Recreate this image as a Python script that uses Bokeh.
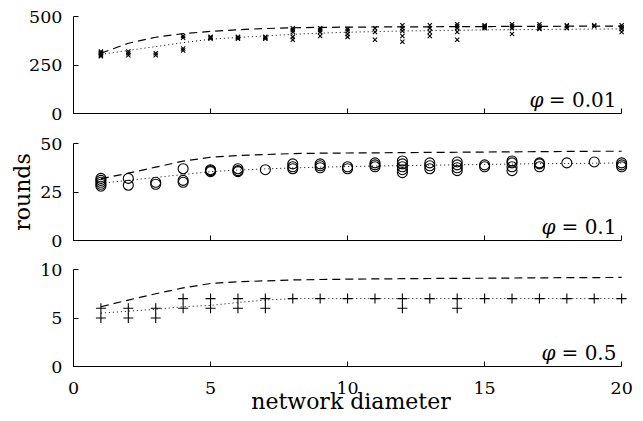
from bokeh.plotting import figure
from bokeh.layouts import column
from bokeh.models import Label, FixedTicker
from bokeh.embed import file_html
from bokeh.resources import INLINE

FONT = "DejaVu Serif"

x_vals = list(range(1, 21))

# panel 1: phi = 0.01
p1_pts = {
    1: [295, 300, 305, 310, 315, 320], 2: [300, 310, 320], 3: [300, 310],
    4: [325, 335, 390, 400], 5: [385, 390, 395], 6: [385, 390, 395],
    7: [385, 390, 395], 8: [380, 395, 420, 430, 440], 9: [400, 420, 430, 440],
    10: [395, 410, 425, 435], 11: [380, 420, 440], 12: [370, 400, 425, 440, 455],
    13: [400, 420, 440, 455], 14: [380, 420, 440, 450, 460], 15: [440, 445, 450, 455],
    16: [410, 440, 450, 460], 17: [435, 440, 450, 460], 18: [440, 450, 455],
    19: [450, 455], 20: [420, 435, 445, 455],
}
p1_dashed = [311, 362, 393, 412, 423, 432, 438, 442, 444, 445,
             446, 447, 447, 448, 448, 449, 449, 450, 450, 450]
p1_dotted = [305, 325, 345, 365, 383, 392, 400, 408, 414, 419,
             422, 425, 427, 429, 431, 432, 433, 434, 435, 436]

# panel 2: phi = 0.1
p2_pts = {
    1: [28, 29, 30, 31, 32], 2: [28.5, 32], 3: [29, 30], 4: [30, 31, 37],
    5: [35.5, 36, 36.5], 6: [35.5, 36, 37], 7: [36.5], 8: [37, 38, 39.5],
    9: [37.5, 38.5, 39.5], 10: [37, 38], 11: [38, 39, 40], 12: [35, 36.5, 38, 39.5, 41],
    13: [37, 38.5, 40], 14: [36, 37.5, 39, 40.5], 15: [38, 39], 16: [36, 38, 40, 41],
    17: [38, 39.5, 40], 18: [40], 19: [40.5], 20: [38, 39, 40],
}
p2_dashed = [31.8, 34.7, 37.8, 40.9, 42.9, 43.8, 44.3, 44.8, 45.0, 45.1,
             45.2, 45.3, 45.4, 45.5, 45.6, 45.7, 45.8, 45.9, 46.0, 46.0]
p2_dotted = [29.5, 31.0, 32.5, 34.0, 35.5, 36.3, 36.9, 37.4, 37.8, 38.1,
             38.4, 38.6, 38.8, 39.0, 39.2, 39.4, 39.6, 39.7, 39.8, 40.0]

# panel 3: phi = 0.5
p3_pts = {
    1: [5, 6], 2: [5, 6], 3: [5, 6], 4: [6, 7], 5: [6, 7], 6: [6, 7], 7: [6, 7],
    8: [7], 9: [7], 10: [7], 11: [7], 12: [6, 7], 13: [7], 14: [6, 7],
    15: [7], 16: [7], 17: [7], 18: [7], 19: [7], 20: [7],
}
p3_dashed = [6.16, 6.85, 7.5, 8.1, 8.56, 8.73, 8.83, 8.92, 8.97, 9.0,
             9.03, 9.05, 9.07, 9.09, 9.1, 9.12, 9.14, 9.16, 9.17, 9.18]
p3_dotted = [5.5, 5.7, 5.9, 6.16, 6.3, 6.6, 6.85, 7.0, 7.0, 7.0,
             7.0, 7.0, 7.0, 7.0, 7.0, 7.0, 7.0, 7.0, 7.0, 7.0]

y_max = [500, 50, 10]
y_ticks = [[0, 250, 500], [0, 25, 50], [0, 5, 10]]
x_ticks = [0, 5, 10, 15, 20]
phi_values = ["= 0.01", "= 0.1", "= 0.5"]
phi_offsets = [-73, -61, -61]
markers = ["x", "circle", "cross"]
marker_sizes = [6, 10, 10]
x_title = "network diameter"
y_title = "rounds"


def flat(d):
    xs, ys = [], []
    for k, vs in d.items():
        for v in vs:
            xs.append(k)
            ys.append(v)
    return xs, ys


def make(i, pts, dashed, dotted, height, top, bottom, last, ylabel):
    p = figure(width=643, height=height, x_range=(0, 20.25), y_range=(0, y_max[i]),
               output_backend="svg", toolbar_location=None,
               min_border_left=73, min_border_right=15,
               min_border_top=top, min_border_bottom=bottom)
    p.grid.visible = False
    p.outline_line_color = None
    p.background_fill_color = "white"
    for ax in (p.xaxis[0], p.yaxis[0]):
        ax.major_tick_in = 5
        ax.major_tick_out = 0
        ax.minor_tick_line_color = None
        ax.axis_line_color = "black"
        ax.major_tick_line_color = "black"
        ax.major_label_text_font = FONT
        ax.major_label_text_font_size = "17.5px"
        ax.major_label_text_color = "black"
        ax.axis_label_text_font = FONT
        ax.axis_label_text_font_style = "normal"
        ax.axis_label_text_font_size = "22px"
        ax.axis_label_text_color = "black"
    p.xaxis.bounds = (0, 20)
    p.xaxis.ticker = FixedTicker(ticks=x_ticks)
    p.yaxis.ticker = FixedTicker(ticks=y_ticks[i])
    p.yaxis.major_label_standoff = 11
    p.xaxis.major_label_standoff = 15
    if not last:
        p.xaxis.major_label_overrides = {t: "" for t in x_ticks}
        p.xaxis.major_label_text_font_size = "1px"
        p.xaxis.major_label_standoff = 0
    else:
        p.xaxis.axis_label = x_title
        p.xaxis.axis_label_standoff = -8
    if ylabel:
        p.yaxis.axis_label = y_title
        p.yaxis.axis_label_standoff = 2

    p.line(x_vals, dashed, line_color="black", line_width=1.2, line_dash="8 5")
    p.line(x_vals, dotted, line_color="black", line_width=1.0, line_dash="1 3")
    xs, ys = flat(pts)
    p.scatter(xs, ys, marker=markers[i], size=marker_sizes[i], line_color="black",
              fill_color=None, line_width=1.1)
    ly = y_max[i] * 0.135
    p.add_layout(Label(x=19.81, y=ly, text=phi_values[i], text_align="right",
                       text_baseline="alphabetic", text_font=FONT,
                       text_font_size="20px", text_color="black"))
    p.add_layout(Label(x=19.81, y=ly, x_offset=phi_offsets[i], text="φ",
                       text_align="right", text_baseline="alphabetic",
                       text_font=FONT, text_font_style="italic",
                       text_font_size="20px", text_color="black"))
    return p


f1 = make(0, p1_pts, p1_dashed, p1_dotted, 133, 16, 20, False, False)
f2 = make(1, p2_pts, p2_dashed, p2_dotted, 126, 10, 19, False, True)
f3 = make(2, p3_pts, p3_dashed, p3_dotted, 162, 10, 55, True, False)

layout = column(f1, f2, f3, spacing=0)
open("out.html", "w").write(file_html(layout, INLINE))
